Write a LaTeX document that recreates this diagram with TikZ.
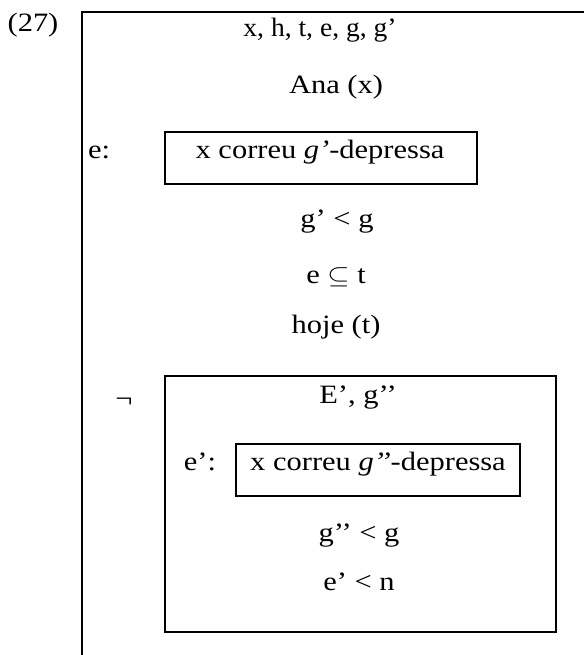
\documentclass[tikz,border=0pt]{standalone}
\usepackage{fontspec}
\setmainfont{Liberation Serif}
\newcommand{\wide}[1]{\scalebox{1.15}[1]{#1}}
\begin{document}
\begin{tikzpicture}[x=1pt,y=1pt,
  txt/.style={anchor=base,inner sep=0pt,font=\fontsize{26.5}{30}\selectfont},
  frame/.style={line width=2pt}]
\useasboundingbox (0,0) rectangle (584,-655);
% outer DRS frame (open at the right and bottom)
\draw[frame] (82,-655) -- (82,-12) -- (584,-12);
\node[txt] (num) at (33,-32) {\wide{(27)}};
\node[txt] (univ) at (320,-37) {\scalebox{1.04}[1]{x, h, t, e, g, g’}};
\node[txt] (ana) at (336,-94) {\wide{Ana (x)}};
\node[txt] (elab) at (99,-159) {\wide{e:}};
\draw[frame] (165,-132) rectangle (477,-184);
\node[txt] (ebox) at (320,-159) {\wide{x correu \textit{g’}-depressa}};
\node[txt] (c1) at (337,-227) {\wide{g’ < g}};
\node[txt] (c2) at (336,-283) {\wide{e $\subseteq$ t}};
\node[txt] (c3) at (336,-333) {\wide{hoje (t)}};
% negated sub-DRS
\node[txt] (neg) at (124,-407) {\wide{¬}};
\draw[frame] (165,-376) rectangle (556,-632);
\node[txt] (univ2) at (358,-403) {\wide{E’, g’’}};
\node[txt] (elab2) at (200,-470) {\wide{e’:}};
\draw[frame] (236,-444) rectangle (520,-496);
\node[txt] (ebox2) at (378,-470) {\wide{x correu \textit{g’’}-depressa}};
\node[txt] (c4) at (359,-541) {\wide{g’’ < g}};
\node[txt] (c5) at (359,-590) {\wide{e’ < n}};
\end{tikzpicture}
\end{document}
